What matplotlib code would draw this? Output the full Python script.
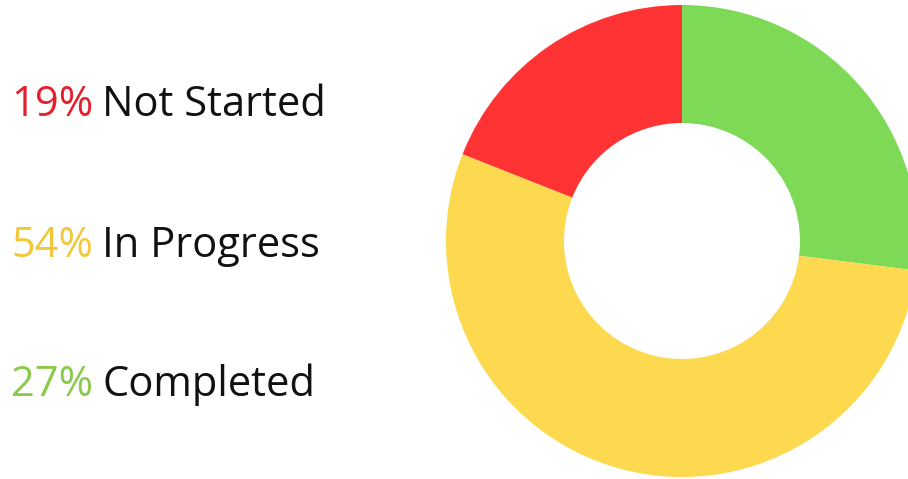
import matplotlib
matplotlib.use("Agg")
import matplotlib.pyplot as plt

labels = ["Completed", "In Progress", "Not Started"]
values = [27, 54, 19]
wedge_colors = ["#7ED957", "#FCD94F", "#FF3333"]
text_colors = ["#8BC94A", "#F3C73A", "#E3202C"]

# legend order (top to bottom)
legend_order = [2, 1, 0]
legend_baseline = [116, 257, 396]  # pixel baselines from top

W, H = 908, 479
fig = plt.figure(figsize=(W / 100, H / 100), dpi=100)
fig.patch.set_facecolor("white")
ax = fig.add_axes([0, 0, 1, 1])
ax.set_xlim(0, W)
ax.set_ylim(0, H)
ax.set_aspect("equal")
ax.axis("off")

ax.pie(values, colors=wedge_colors, startangle=90, counterclock=False,
       center=(682, H - 241), radius=236,
       wedgeprops=dict(width=118, edgecolor="none"))
ax.set_xlim(0, W)
ax.set_ylim(0, H)

font = "Open Sans"
fs = 30
fig.canvas.draw()
renderer = fig.canvas.get_renderer()
for idx, yb in zip(legend_order, legend_baseline):
    t = fig.text(11 / W, 1 - yb / H, f"{values[idx]}%", color=text_colors[idx],
                 fontsize=fs, family=font, va="baseline", ha="left")
    bb = t.get_window_extent(renderer)
    fig.text((bb.x1 + 9) / W, 1 - yb / H, labels[idx], color="#111111",
             fontsize=fs, family=font, va="baseline", ha="left")

fig.savefig("out.png", dpi=100, facecolor="white")
